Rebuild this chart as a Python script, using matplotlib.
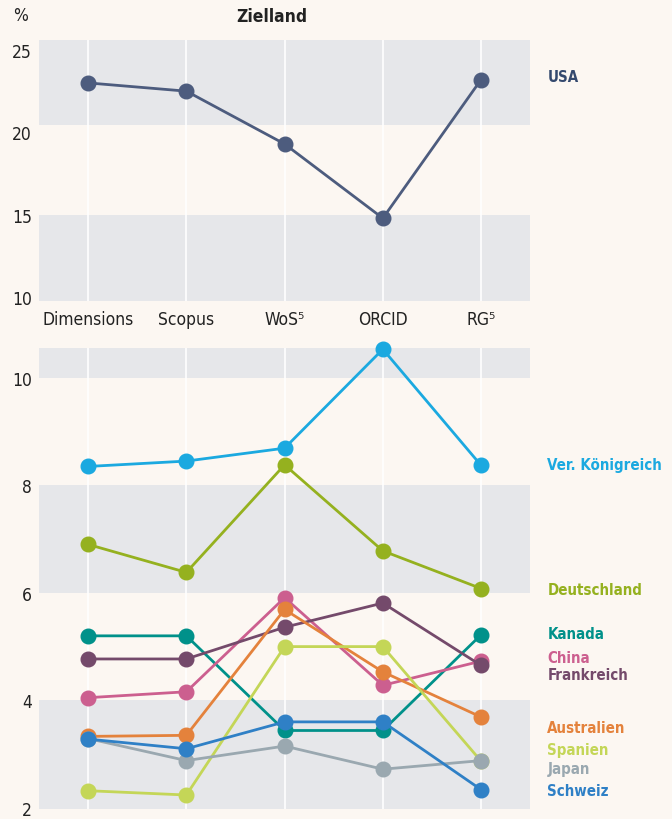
import matplotlib
matplotlib.use("Agg")
import matplotlib.pyplot as plt
import matplotlib.transforms as mtransforms

# Schrift: DejaVu Sans in der schmalen Variante
plt.rcParams["font.family"] = ["DejaVu Sans"]
plt.rcParams["font.stretch"] = "condensed"

# Daten
quellen = ["Dimensions", "Scopus", "WoS⁵", "ORCID", "RG⁵"]

usa = [23.0, 22.5, 19.3, 14.8, 23.2]

laender = ["Ver. Königreich", "Deutschland", "Kanada", "China", "Frankreich",
           "Australien", "Spanien", "Japan", "Schweiz"]
uk = [8.35, 8.45, 8.69, 10.53, 8.37]
deutschland = [6.90, 6.38, 8.38, 6.78, 6.08]
kanada = [5.20, 5.20, 3.44, 3.44, 5.22]
china = [4.05, 4.16, 5.91, 4.28, 4.73]
frankreich = [4.77, 4.77, 5.36, 5.81, 4.65]
australien = [3.33, 3.35, 5.69, 4.53, 3.69]
spanien = [2.32, 2.24, 5.00, 5.00, 2.87]
japan = [3.29, 2.88, 3.15, 2.72, 2.88]
schweiz = [3.28, 3.10, 3.60, 3.60, 2.34]
werte = [uk, deutschland, kanada, china, frankreich, australien, spanien, japan, schweiz]

farben = ["#1ba9e0", "#95b11f", "#00918a", "#cc5f8f", "#744a6b",
          "#e4823c", "#c4d657", "#9aa8b0", "#2f80c6"]
# y-Position der Beschriftungen rechts (Datenwerte)
label_y = [8.39, 6.07, 5.25, 4.80, 4.49, 3.50, 3.08, 2.73, 2.32]

bg = "#fcf7f2"
band = "#e6e7ea"

fig = plt.figure(figsize=(6.72, 8.2), dpi=100, facecolor=bg)
ax1 = fig.add_axes([0.058, 0.632, 0.731, 0.318])
ax2 = fig.add_axes([0.058, 0.0122, 0.731, 0.562])

x = list(range(len(quellen)))

def style(ax, ylim, bands, ticks):
    ax.set_facecolor(bg)
    ax.set_xlim(-0.5, 4.5)
    ax.set_ylim(*ylim)
    for lo, hi in bands:
        ax.axhspan(lo, hi, color=band, lw=0, zorder=0)
    for xi in x:
        ax.axvline(xi, color="white", lw=1.2, zorder=1)
    for s in ax.spines.values():
        s.set_visible(False)
    ax.set_yticks(ticks)
    ax.set_yticklabels([str(t) for t in ticks], fontsize=12.5, color="#222222")
    ax.tick_params(axis="y", length=0, pad=5)

style(ax1, (9.8, 25.6), [(9.8, 15), (20.45, 25.6)], [10, 15, 20, 25])
ax1.set_xticks(x)
ax1.set_xticklabels(quellen, fontsize=12.5, color="#222222")
ax1.tick_params(axis="x", length=0, pad=7)

ax1.plot(x, usa, color="#4d5c7e", lw=2, marker="o", ms=10.5, zorder=3, clip_on=False)
tr1 = mtransforms.blended_transform_factory(ax1.transAxes, ax1.transData)
ax1.text(1.035, 23.36, "USA", transform=tr1, color="#34496e", fontsize=10.8,
         fontweight="bold", va="center", ha="left")

style(ax2, (1.98, 10.55), [(1.98, 4), (6, 8), (10, 10.55)], [2, 4, 6, 8, 10])
ax2.set_xticks([])

tr2 = mtransforms.blended_transform_factory(ax2.transAxes, ax2.transData)
for name, vals, c, ly in zip(laender, werte, farben, label_y):
    ax2.plot(x, vals, color=c, lw=2, marker="o", ms=10.5, zorder=3, clip_on=False)
    ax2.text(1.035, ly, name, transform=tr2, color=c, fontsize=10.8,
             fontweight="bold", va="center", ha="left")

fig.text(0.03, 0.981, "%", fontsize=12.5, color="#222222", ha="center", va="center")
fig.text(0.405, 0.979, "Zielland", fontsize=12.5, fontweight="bold", color="#222222",
         ha="center", va="center")

fig.savefig("out.png", dpi=100, facecolor=bg)
